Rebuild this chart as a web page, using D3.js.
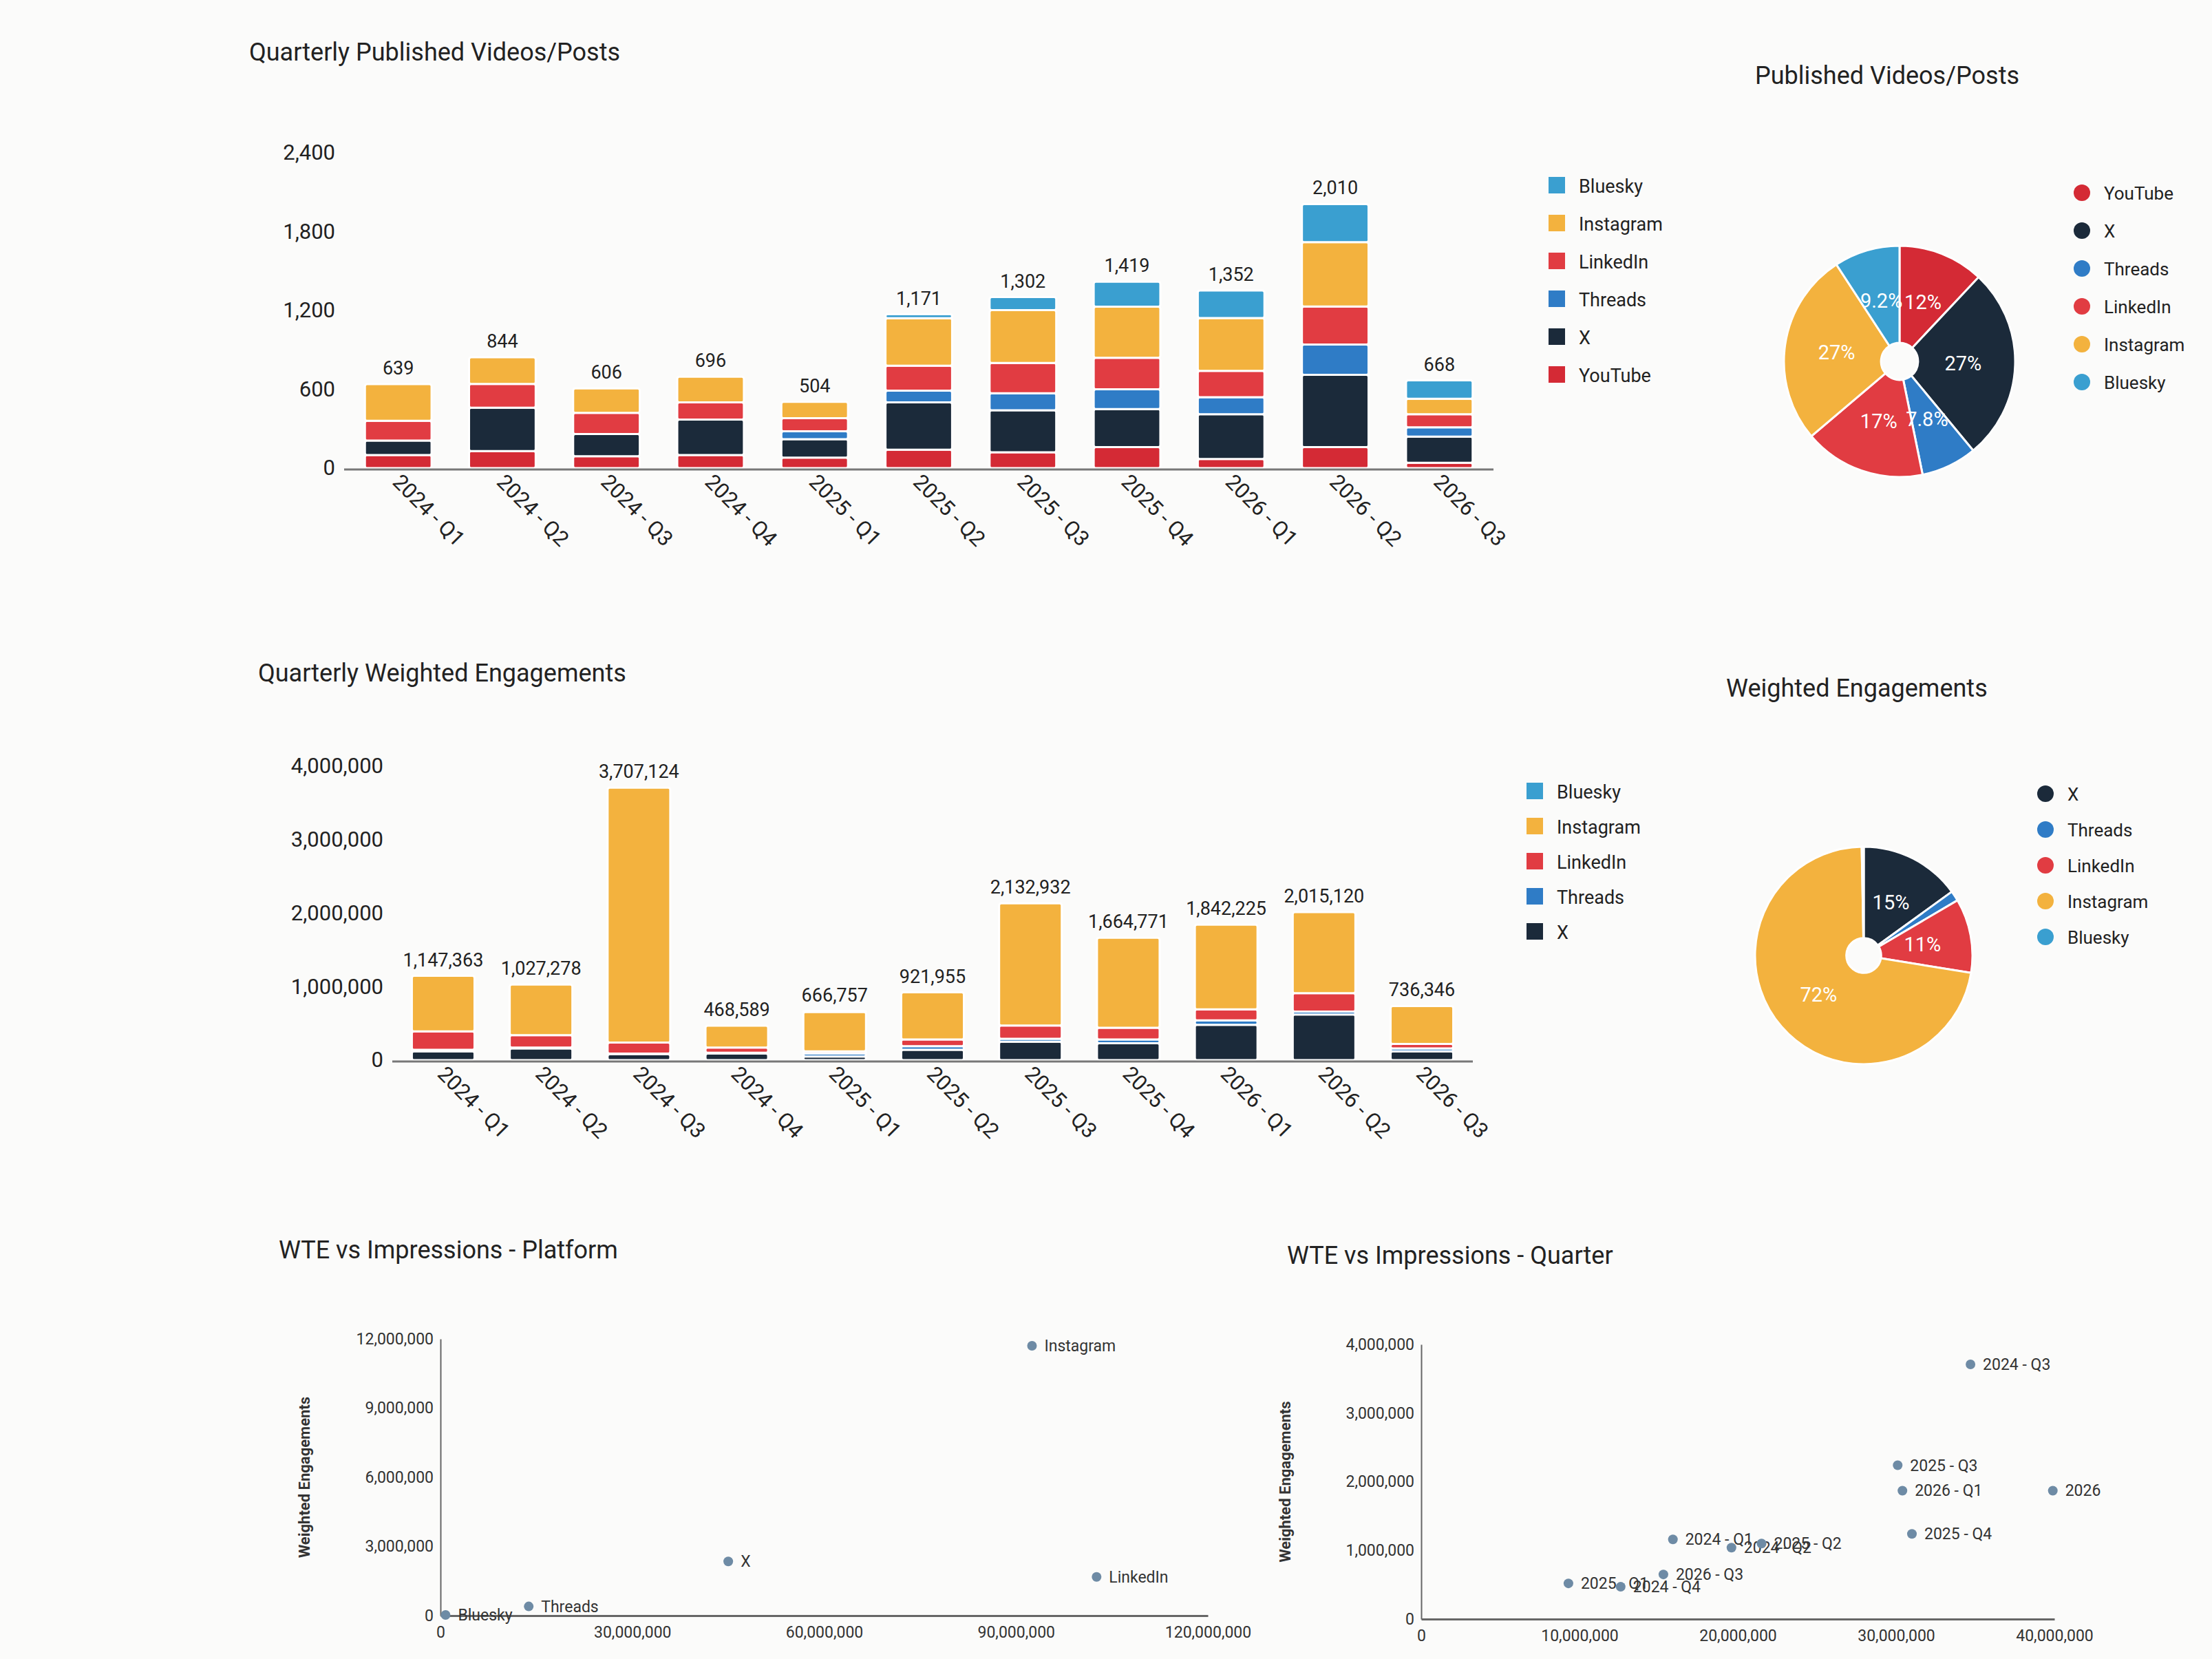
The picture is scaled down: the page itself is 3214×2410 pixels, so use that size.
<!DOCTYPE html>
<html><head><meta charset="utf-8">
<script src="https://cdn.jsdelivr.net/npm/d3@7"></script>
<style>body{margin:0;background:#fbfbfa;font-family:Roboto,"Noto Sans",sans-serif}</style>
</head><body><svg id="c" width="3214" height="2410"></svg>
<script>
const quarters=["2024 - Q1","2024 - Q2","2024 - Q3","2024 - Q4","2025 - Q1","2025 - Q2","2025 - Q3","2025 - Q4","2026 - Q1","2026 - Q2","2026 - Q3"];
// posts per platform (stack order bottom-up)
const postYouTube=[100,130,90,100,80,140,120,160,70,160,40];
const postX=[110,330,170,270,140,360,320,290,340,550,200];
const postThreads=[0,0,0,0,60,90,130,150,130,230,70];
const postLinkedIn=[150,180,160,130,100,190,230,240,200,290,100];
const postInstagram=[279,204,186,196,124,361,402,389,402,490,118];
const postBluesky=[0,0,0,0,0,30,100,190,210,290,140];
const postTotals=[639,844,606,696,504,1171,1302,1419,1352,2010,668];
const postTicks=[0,600,1200,1800,2400];
// weighted engagements
const engX=[120000,160000,80000,90000,50000,140000,250000,230000,480000,620000,120000];
const engThreads=[20000,10000,10000,10000,40000,50000,40000,50000,60000,40000,40000];
const engLinkedIn=[250000,170000,150000,70000,30000,90000,180000,160000,150000,250000,60000];
const engInstagram=[757363,687278,3467124,298589,536757,641955,1662932,1224771,1152225,1105120,516346];
const engBluesky=[0,0,0,0,10000,0,0,0,0,0,0];
const engTotals=[1147363,1027278,3707124,468589,666757,921955,2132932,1664771,1842225,2015120,736346];
const engTicks=[0,1000000,2000000,3000000,4000000];
// pies
const pie1Labels=["YouTube","X","Threads","LinkedIn","Instagram","Bluesky"];
const pie1Values=[12,27,7.8,17,27,9.2];
const pie2Labels=["X","Threads","LinkedIn","Instagram","Bluesky"];
const pie2Values=[15,1.5,11,72,0.3];
// scatters
const platNames=["Instagram","X","LinkedIn","Threads","Bluesky"];
const platImpr=[92500000,45000000,102600000,13800000,800000];
const platWTE=[11700000,2350000,1680000,400000,30000];
const qNames=["2024 - Q3","2025 - Q3","2026 - Q1","2026","2025 - Q4","2024 - Q1","2024 - Q2","2025 - Q2","2026 - Q3","2025 - Q1","2024 - Q4"];
const qImpr=[34700000,30100000,30400000,39900000,31000000,15900000,19600000,21500000,15300000,9300000,12600000];
const qWTE=[3710000,2240000,1870000,1870000,1240000,1160000,1040000,1100000,650000,520000,470000];

const colors={YouTube:"#d42a35",X:"#1b2a3a",Threads:"#2f7cc6",LinkedIn:"#e13c42",Instagram:"#f3b23e",Bluesky:"#3a9fd0"};
const svg=d3.select("#c");
const F="Roboto,'Noto Sans',sans-serif";
function title(x,y,t){svg.append("text").attr("x",x).attr("y",y).attr("font-size",36).attr("font-family",F).attr("fill","#222").text(t);}

function stacked(cfg){
  const {keys,series,totals,ticks,x0,x1,y0,y1,fmt,lx,ly}=cfg;
  const x=d3.scaleBand().domain(quarters).range([x0,x1]).paddingInner(0.36).paddingOuter(0.2);
  const y=d3.scaleLinear().domain([0,ticks[ticks.length-1]]).range([y0,y1]);
  const g=svg.append("g");
  g.append("g").attr("transform",`translate(${x0-10},0)`).call(d3.axisLeft(y).tickValues(ticks).tickSize(0).tickFormat(d3.format(",")))
   .call(a=>a.select(".domain").remove()).selectAll("text").attr("font-size",31).attr("font-family",F).attr("fill","#222");
  const data=quarters.map((q,i)=>{const o={q};keys.forEach(k=>o[k]=series[k][i]);return o;});
  const st=d3.stack().keys(keys)(data);
  g.selectAll("g.s").data(st).join("g").attr("fill",d=>colors[d.key])
   .selectAll("rect").data(d=>d).join("rect")
   .attr("x",d=>x(d.data.q)).attr("width",x.bandwidth())
   .attr("y",d=>y(d[1])).attr("height",d=>Math.max(0,y(d[0])-y(d[1])))
   .attr("stroke","#fff").attr("stroke-width",d=>(d[1]-d[0])>0?3:0).attr("rx",3);
  g.append("line").attr("x1",x0).attr("x2",x1).attr("y1",y0+2).attr("y2",y0+2).attr("stroke","#777").attr("stroke-width",3);
  g.selectAll("text.tot").data(totals).join("text").attr("x",(d,i)=>x(quarters[i])+x.bandwidth()/2).attr("y",d=>y(d)-14)
   .attr("text-anchor","middle").attr("font-size",27).attr("font-family",F).attr("fill","#222").text(d=>fmt(d));
  g.selectAll("text.xl").data(quarters).join("text").attr("font-size",31).attr("font-family",F).attr("fill","#222")
   .attr("transform",d=>`translate(${x(d)+x.bandwidth()/2-10},${y0+22}) rotate(45)`).text(d=>d);
  const leg=keys.slice().reverse();
  leg.forEach((k,i)=>{svg.append("rect").attr("x",lx).attr("y",ly+i*cfg.ls-13).attr("width",24).attr("height",24).attr("fill",colors[k]);
    svg.append("text").attr("x",lx+44).attr("y",ly+i*cfg.ls+10).attr("font-size",27).attr("font-family",F).attr("fill","#222").text(k);});
}
title(362,88,"Quarterly Published Videos/Posts");
stacked({keys:["YouTube","X","Threads","LinkedIn","Instagram","Bluesky"],
  series:{YouTube:postYouTube,X:postX,Threads:postThreads,LinkedIn:postLinkedIn,Instagram:postInstagram,Bluesky:postBluesky},
  totals:postTotals,ticks:postTicks,x0:500,x1:2170,y0:680,y1:222,fmt:d3.format(","),lx:2250,ly:270,ls:55});
title(375,990,"Quarterly Weighted Engagements");
stacked({keys:["X","Threads","LinkedIn","Instagram","Bluesky"],
  series:{X:engX,Threads:engThreads,LinkedIn:engLinkedIn,Instagram:engInstagram,Bluesky:engBluesky},
  totals:engTotals,ticks:engTicks,x0:570,x1:2140,y0:1540,y1:1113,fmt:d3.format(","),lx:2218,ly:1150,ls:51});

function pie(cfg){
  const {labels,values,cx,cy,r,lx,ly,ls,showMin}=cfg;
  const arcs=d3.pie().sort(null)(values);
  const arc=d3.arc().innerRadius(r*0.16).outerRadius(r);
  const la=d3.arc().innerRadius(r*0.55).outerRadius(r*0.55);
  const g=svg.append("g").attr("transform",`translate(${cx},${cy})`);
  g.selectAll("path").data(arcs).join("path").attr("d",arc).attr("fill",(d,i)=>colors[labels[i]]).attr("stroke","#fff").attr("stroke-width",3);
  g.selectAll("text").data(arcs.filter(d=>d.data>=showMin)).join("text").attr("transform",d=>`translate(${la.centroid(d)})`)
   .attr("text-anchor","middle").attr("dy","0.35em").attr("font-size",29).attr("font-family",F).attr("fill","#fff").text(d=>d.data+"%");
  labels.forEach((k,i)=>{svg.append("circle").attr("cx",lx).attr("cy",ly+i*ls).attr("r",12).attr("fill",colors[k]);
    svg.append("text").attr("x",lx+32).attr("y",ly+i*ls+10).attr("font-size",26).attr("font-family",F).attr("fill","#222").text(k);});
}
title(2550,122,"Published Videos/Posts");
pie({labels:pie1Labels,values:pie1Values,cx:2760,cy:525,r:168,lx:3025,ly:280,ls:55,showMin:5});
title(2508,1012,"Weighted Engagements");
pie({labels:pie2Labels,values:pie2Values,cx:2708,cy:1388,r:158,lx:2972,ly:1153,ls:52,showMin:5});

function scatter(cfg){
  const {names,xs,ys,xmax,ymax,x0,x1,y0,y1,xt,yt}=cfg;
  const x=d3.scaleLinear().domain([0,xmax]).range([x0,x1]);
  const y=d3.scaleLinear().domain([0,ymax]).range([y0,y1]);
  const g=svg.append("g");
  g.append("g").attr("transform",`translate(0,${y0})`).call(d3.axisBottom(x).tickValues(xt).tickSize(0).tickPadding(16).tickFormat(d3.format(",")))
   .call(a=>a.select(".domain").attr("stroke","#666").attr("stroke-width",3)).selectAll("text").attr("font-size",23).attr("font-family",F).attr("fill","#333");
  g.append("g").attr("transform",`translate(${x0},0)`).call(d3.axisLeft(y).tickValues(yt).tickSize(0).tickPadding(10).tickFormat(d3.format(",")))
   .call(a=>a.select(".domain").attr("stroke","#666").attr("stroke-width",2)).selectAll("text").attr("font-size",23).attr("font-family",F).attr("fill","#333");
  g.append("text").attr("transform",`translate(${x0-190},${(y0+y1)/2}) rotate(-90)`).attr("text-anchor","middle")
   .attr("font-size",22).attr("font-family",F).attr("font-weight","bold").attr("fill","#333").text("Weighted Engagements");
  names.forEach((n,i)=>{g.append("circle").attr("cx",x(xs[i])).attr("cy",y(ys[i])).attr("r",7).attr("fill","#6e8ba5");
    g.append("text").attr("x",x(xs[i])+18).attr("y",y(ys[i])+8).attr("font-size",23).attr("font-family",F).attr("fill","#333").text(n);});
}
title(405,1828,"WTE vs Impressions - Platform");
scatter({names:platNames,xs:platImpr,ys:platWTE,xmax:120000000,ymax:12000000,x0:640,x1:1755,y0:2347,y1:1945,
  xt:[0,30000000,60000000,90000000,120000000],yt:[0,3000000,6000000,9000000,12000000]});
title(1870,1836,"WTE vs Impressions - Quarter");
scatter({names:qNames,xs:qImpr,ys:qWTE,xmax:40000000,ymax:4000000,x0:2065,x1:2985,y0:2352,y1:1953,
  xt:[0,10000000,20000000,30000000,40000000],yt:[0,1000000,2000000,3000000,4000000]});
</script></body></html>
